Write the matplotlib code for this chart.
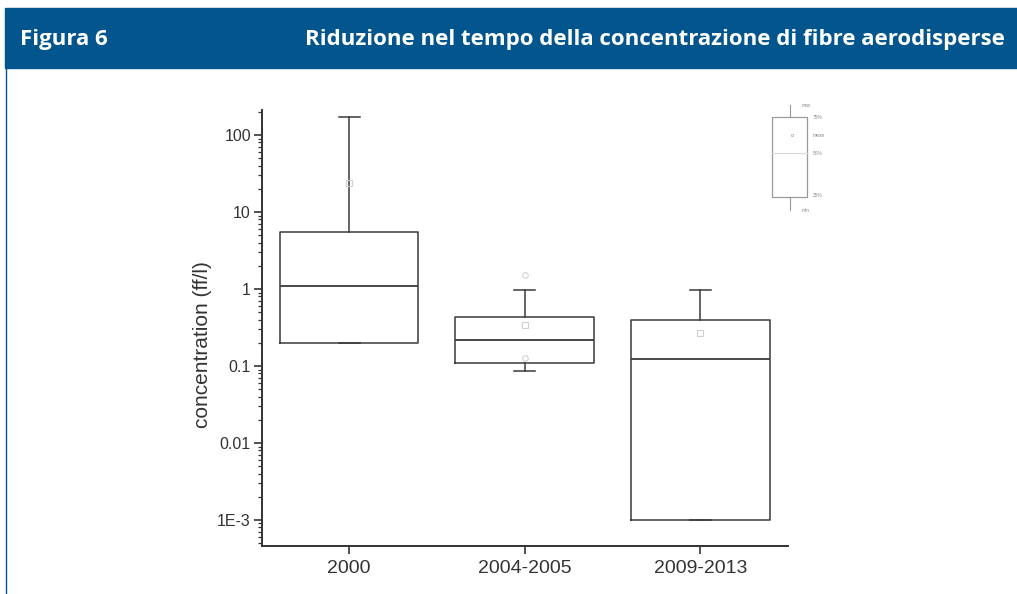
import matplotlib
matplotlib.use("Agg")
import matplotlib.pyplot as plt
from matplotlib.patches import Rectangle
from matplotlib.lines import Line2D

# Data (log scale, ff/l)
categories = ["2000", "2004-2005", "2009-2013"]
q1 = [0.2, 0.109, 0.001]
medians = [1.09, 0.218, 0.123]
q3 = [5.5, 0.43, 0.395]
whisker_low = [0.2, 0.086, 0.001]
whisker_high = [171, 0.97, 0.97]
means = [23.8, 0.34, 0.27]
extremes = [[], [1.52, 0.127], []]

ytick_values = [1e-3, 0.01, 0.1, 1, 10, 100]
ytick_labels = ["1E-3", "0.01", "0.1", "1", "10", "100"]

plt.rcParams["font.family"] = ["Liberation Sans", "DejaVu Sans"]

fig = plt.figure(figsize=(10.17, 5.94), dpi=100)

# Header bar
blue = "#03568d"
fig.patches.append(Rectangle((5 / 1017, 1 - 68 / 594), 1 - 5 / 1017, 60 / 594,
                             transform=fig.transFigure, color=blue, zorder=0))
fig.lines.append(Line2D([5.5 / 1017, 5.5 / 1017], [0, 1 - 68 / 594],
                        transform=fig.transFigure, color=blue, lw=1))
fig.text(20 / 1017, 1 - 39 / 594, "Figura 6", color="white", fontsize=16,
         fontweight="bold", family="Open Sans", va="center", ha="left")
fig.text(1005 / 1017, 1 - 39 / 594, "Riduzione nel tempo della concentrazione di fibre aerodisperse",
         color="white", fontsize=16, fontweight="bold", family="Open Sans",
         va="center", ha="right")

ax = fig.add_axes([262 / 1017, 1 - 546 / 594, 526 / 1017, 436 / 594])

stats = []
for i, name in enumerate(categories):
    stats.append(dict(label=name, med=medians[i], q1=q1[i], q3=q3[i],
                      whislo=whisker_low[i], whishi=whisker_high[i],
                      mean=means[i], fliers=extremes[i]))

line_col = "#3a3a3a"
ax.bxp(stats, positions=range(len(categories)), widths=0.79, showmeans=True,
       boxprops=dict(color=line_col, lw=1.1),
       medianprops=dict(color=line_col, lw=1.3),
       whiskerprops=dict(color=line_col, lw=1.1),
       capprops=dict(color=line_col, lw=1.1),
       capwidths=0.12,
       meanprops=dict(marker="s", markersize=4, markerfacecolor="none",
                      markeredgecolor="#d0d0d0", markeredgewidth=0.8),
       flierprops=dict(marker="o", markersize=4, markerfacecolor="none",
                       markeredgecolor="#d0d0d0", markeredgewidth=0.8))

ax.set_yscale("log")
ax.set_ylim(10 ** -3.338, 10 ** 2.325)
ax.set_xlim(-0.496, 2.5)
ax.set_yticks(ytick_values)
ax.set_yticklabels(ytick_labels)
ax.set_xticks(range(len(categories)))
ax.set_xticklabels(categories)

for side in ["top", "right"]:
    ax.spines[side].set_visible(False)
for side in ["left", "bottom"]:
    ax.spines[side].set_linewidth(1.4)
    ax.spines[side].set_color("#333333")

ax.tick_params(axis="y", which="major", length=6, width=1.2, labelsize=11.5,
               colors="#333333", pad=2)
ax.tick_params(axis="y", which="minor", length=3, width=0.9, colors="#333333")
ax.tick_params(axis="x", which="major", length=6, width=1.2, labelsize=14,
               colors="#333333", pad=4)
ax.set_ylabel("concentration (ff/l)", fontsize=15, color="#333333")
ax.yaxis.set_label_coords(-0.095, 0.461)

# Small key box in the top-right corner
key = fig.add_axes([765 / 1017, 1 - 215 / 594, 70 / 1017, 115 / 594])
key.set_xlim(0, 1)
key.set_ylim(0, 1)
key.axis("off")
kc = "#9a9a9a"
key.add_patch(Rectangle((0.1, (215 - 197) / 115), 0.5, 80 / 115, fill=False,
                        ec=kc, lw=0.9))
key.plot([0.35, 0.35], [(215 - 117) / 115, (215 - 105) / 115], color=kc, lw=0.8)
key.plot([0.35, 0.35], [(215 - 210) / 115, (215 - 197) / 115], color=kc, lw=0.8)
key.plot([0.1, 0.6], [(215 - 153) / 115] * 2, color="#d8d8d8", lw=0.8)
key.plot([0.38], [(215 - 135) / 115], marker="s", ms=2, mfc="none", mec="#bbbbbb", mew=0.6)
key_labels = [("max", 0.52, 105), ("75%", 0.68, 117), ("mean", 0.68, 135),
              ("50%", 0.68, 153), ("25%", 0.68, 195), ("min", 0.52, 210)]
for txt, x, y in key_labels:
    key.text(x, (215 - y) / 115, txt, fontsize=3.5, color="#8a8a8a", va="center")

fig.savefig("out.png", dpi=100)
